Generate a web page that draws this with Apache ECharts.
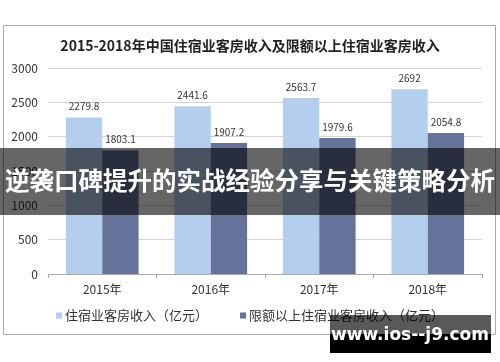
<!DOCTYPE html>
<html><head><meta charset="utf-8">
<script src="https://cdn.jsdelivr.net/npm/echarts@6/dist/echarts.min.js"></script>
<style>html,body{margin:0;padding:0;background:#fff}#c{width:500px;height:362px}</style>
</head><body><div id="c"></div>
<script>
const categories = ['2015年','2016年','2017年','2018年'];
const seriesNames = ['住宿业客房收入（亿元）','限额以上住宿业客房收入（亿元）'];
const totalRevenue = [2279.8, 2441.6, 2563.7, 2692];
const aboveQuotaRevenue = [1803.1, 1907.2, 1979.6, 2054.8];
const yTicks = [0, 500, 1000, 1500, 2000, 2500, 3000];
const titleText = '2015-2018年中国住宿业客房收入及限额以上住宿业客房收入';
const bannerText = '逆袭口碑提升的实战经验分享与关键策略分析';
const watermarkText = 'www.ios--j9.com';

const chart = echarts.init(document.getElementById('c'), null, {renderer:'canvas'});
const font = '"Noto Sans CJK SC", "Noto Sans", sans-serif';
chart.setOption({
  animation:false,
  textStyle:{fontFamily:font},
  title:{text:titleText,left:'center',top:34,textStyle:{fontSize:14,fontWeight:'bold',color:'#222',fontFamily:font}},
  grid:{left:48,right:18,top:68,bottom:88},
  legend:{bottom:35,left:'center',itemWidth:6,itemHeight:6,itemGap:32,icon:'rect',
    textStyle:{fontSize:13,color:'#333',padding:[0,0,0,-2]},data:seriesNames},
  xAxis:{type:'category',data:categories,
    axisLine:{lineStyle:{color:'#aaa'}},
    axisTick:{show:true,length:4,lineStyle:{color:'#aaa'}},
    axisLabel:{fontSize:12,color:'#333',margin:9}},
  yAxis:{type:'value',min:yTicks[0],max:yTicks[yTicks.length-1],interval:500,
    axisLine:{show:false},axisTick:{show:false},
    axisLabel:{fontSize:12,color:'#333',margin:10,formatter:function(v){return String(v);}},
    splitLine:{lineStyle:{color:'#d4d4d4'}}},
  series:[
    {name:seriesNames[0],type:'bar',data:totalRevenue,barGap:'0%',barCategoryGap:'33%',
     itemStyle:{color:'#b4cfee'},
     label:{show:true,position:'top',fontSize:10,color:'#333',distance:6}},
    {name:seriesNames[1],type:'bar',data:aboveQuotaRevenue,
     itemStyle:{color:'#65739a'},
     label:{show:true,position:'top',fontSize:10,color:'#333',distance:6}}
  ],
  graphic:[
    {type:'rect',z:0,silent:true,shape:{x:3.5,y:25.5,width:492,height:309},style:{fill:'none',stroke:'#aaa',lineWidth:1}},
    {type:'rect',z:100,shape:{x:0,y:148,width:500,height:67},style:{fill:'rgba(0,0,0,0.6)'}},
    {type:'text',z:101,x:250,y:181,style:{text:bannerText,fill:'#fff',font:'bold 24.5px '+font,align:'center',verticalAlign:'middle'}},
    {type:'rect',z:100,shape:{x:330,y:315,width:161,height:19},style:{fill:'rgba(0,0,0,0.65)'}},
    {type:'rect',z:100,shape:{x:330,y:334,width:161,height:19},style:{fill:'#000'}},
    {type:'text',z:101,x:410,y:336,style:{text:watermarkText,fill:'#fff',font:'bold 17px "DejaVu Sans", sans-serif',align:'center',verticalAlign:'middle'}}
  ]
});
</script></body></html>
